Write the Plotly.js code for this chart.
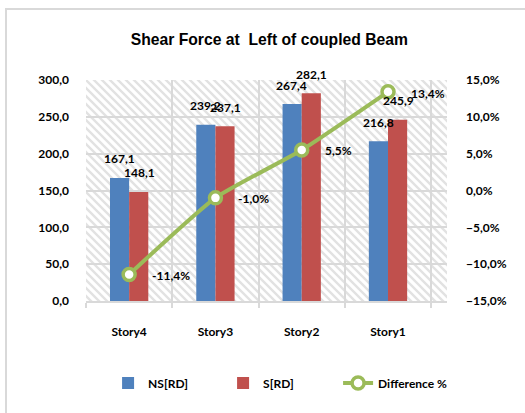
<!DOCTYPE html>
<html>
<head>
<meta charset="utf-8">
<script src="https://cdn.plot.ly/plotly-3.0.1.min.js"></script>
<style>
  html, body { margin: 0; padding: 0; background: #fff; }
  #wrap { position: relative; width: 525px; height: 413px; overflow: hidden; }
  #chart { position: absolute; left: 0; top: 0; width: 525px; height: 413px; }
  #frame { position: absolute; left: 5px; top: 8px; width: 540px; height: 430px;
           border-left: 2px solid #d9d9d9; border-top: 2px solid #d9d9d9; pointer-events: none; }
</style>
</head>
<body>
<div id="wrap">
  <div id="chart"></div>
  <div id="frame"></div>
</div>
<script>
// ---- data ----
const categories = ["Story4", "Story3", "Story2", "Story1"];
const nsValues = [167.1, 239.2, 267.4, 216.8];
const sValues = [148.1, 237.1, 282.1, 245.9];
const diffValues = [-0.114, -0.010, 0.055, 0.134];
const seriesNames = ["NS[RD]", "S[RD]", "Difference %"];

const blue = "#4F81BD", red = "#C0504D", green = "#9BBB59";
const labelFont = { family: "Lato, 'Open Sans', sans-serif", size: 12, color: "#000", weight: "bold" };

// hatched plot background as an svg image
const W = 361, H = 221;
const svg = `<svg xmlns="http://www.w3.org/2000/svg" width="${W}" height="${H}" viewBox="0 0 ${W} ${H}" preserveAspectRatio="none">` +
  `<defs><pattern id="p" patternUnits="userSpaceOnUse" width="8" height="8">` +
  `<path d="M0,0 L8,8 M-4,4 L4,12 M4,-4 L12,4" stroke="#e2e2e2" stroke-width="2.4"/></pattern></defs>` +
  `<rect width="${W}" height="${H}" fill="#fff"/><rect width="${W}" height="${H}" fill="url(#p)"/></svg>`;
const bgSrc = "data:image/svg+xml;charset=utf-8," + encodeURIComponent(svg);

const traces = [
  { type: "bar", name: seriesNames[0], x: categories, y: nsValues, marker: { color: blue }, hoverinfo: "skip" },
  { type: "bar", name: seriesNames[1], x: categories, y: sValues, marker: { color: red }, hoverinfo: "skip" },
  { type: "scatter", name: seriesNames[2], x: categories, y: diffValues, yaxis: "y2",
    mode: "lines+markers", line: { color: green, width: 4, shape: "spline", smoothing: 0.5 },
    marker: { size: 12, color: "#fff", line: { color: green, width: 3.5 } }, hoverinfo: "skip" }
];

const fmt = v => v.toFixed(1).replace(".", ",");
const annotations = [];
categories.forEach((c, i) => {
  annotations.push({ x: c, y: nsValues[i], xref: "x", yref: "y", text: fmt(nsValues[i]), showarrow: false,
    xshift: -10, yshift: 19, yanchor: "middle", font: labelFont });
  annotations.push({ x: c, y: sValues[i], xref: "x", yref: "y", text: fmt(sValues[i]), showarrow: false,
    xshift: 10, yshift: 19, yanchor: "middle", font: labelFont });
  annotations.push({ x: c, y: diffValues[i], xref: "x", yref: "y2", text: fmt(diffValues[i] * 100) + "%", showarrow: false,
    xanchor: "left", xshift: 21, yshift: i === 3 ? -2 : -1, yanchor: "middle", font: labelFont });
});

const layout = {
  width: 525, height: 413,
  margin: { l: 86, r: 78, t: 80, b: 112, autoexpand: false },
  paper_bgcolor: "rgba(0,0,0,0)", plot_bgcolor: "rgba(0,0,0,0)",
  separators: ", ",
  title: { text: "Shear Force at \u00a0Left of coupled Beam", x: 0.513, xanchor: "center", y: 0.905, yanchor: "middle",
    font: { family: "'Liberation Sans', Arial, sans-serif", size: 15.7, color: "#000", weight: "bold" } },
  barmode: "group", bargap: 0.556, bargroupgap: 0,
  showlegend: true,
  legend: { orientation: "h", x: 0.539, xanchor: "center", y: -0.371, yanchor: "middle",
    font: labelFont, itemwidth: 30, entrywidth: 70, entrywidthmode: "pixels", traceorder: "normal" },
  xaxis: { type: "category", tickson: "boundaries", showgrid: true, gridcolor: "#d9d9d9", gridwidth: 2,
    ticks: "outside", ticklen: 5, tickcolor: "#d9d9d9", tickwidth: 2,
    showline: true, linecolor: "#d9d9d9", linewidth: 2, ticklabelstandoff: 19,
    tickfont: labelFont, fixedrange: true },
  yaxis: { range: [0, 300], dtick: 50, tickformat: ".1f", showgrid: true, gridcolor: "#d9d9d9", gridwidth: 2,
    zeroline: false, showline: false, ticks: "", ticklabelstandoff: 16, tickfont: labelFont, fixedrange: true },
  yaxis2: { overlaying: "y", side: "right", range: [-0.15, 0.15], dtick: 0.05, tickformat: ".1%",
    showgrid: false, zeroline: false, showline: false, ticks: "", ticklabelstandoff: 18, tickfont: labelFont, fixedrange: true },
  images: [{ source: bgSrc, xref: "paper", yref: "paper", x: 0, y: 1, sizex: 1, sizey: 1,
    xanchor: "left", yanchor: "top", sizing: "stretch", layer: "below" }],
  annotations: annotations
};

Plotly.newPlot("chart", traces, layout, { displayModeBar: false, staticPlot: true });
</script>
</body>
</html>
